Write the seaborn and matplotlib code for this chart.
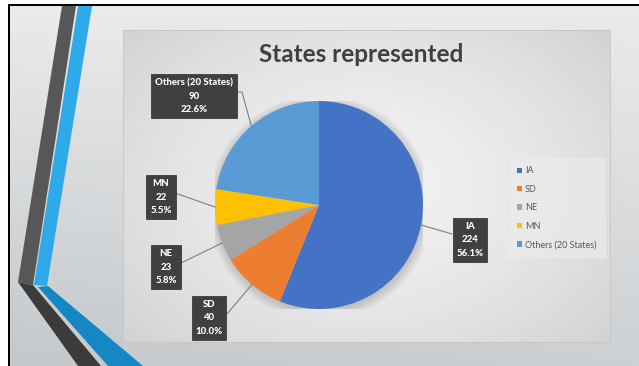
import numpy as np
import matplotlib
matplotlib.use("Agg")
import matplotlib.pyplot as plt
from matplotlib.patches import Polygon, Rectangle, Circle
import seaborn as sns

# ---- data ----
states = ["IA", "SD", "NE", "MN", "Others (20 States)"]
counts = [224, 40, 23, 22, 90]
percents = ["56.1%", "10.0%", "5.8%", "5.5%", "22.6%"]
title = "States represented"
colors = sns.color_palette(["#4472C4", "#ED7D31", "#A5A5A5", "#FFC000", "#5B9BD5"])

sns.set_theme(style="white")
plt.rcParams["font.family"] = ["Lato", "DejaVu Sans"]

W, H = 639, 366
fig = plt.figure(figsize=(W / 100, H / 100), dpi=100, facecolor="white")

# overlay axes in pixel coordinates (y down)
bg = fig.add_axes([0, 0, 1, 1])
bg.set_xlim(0, W)
bg.set_ylim(H, 0)
bg.axis("off")

# slide background gradient
yy, xx = np.mgrid[0:1:200j, 0:1:300j]
top = np.array([0.915, 0.92, 0.925])
bot = np.array([0.77, 0.785, 0.795])
t = (0.75 * yy + 0.25 * (1 - xx) * yy)[..., None]
slide = top * (1 - t) + bot * t
bg.imshow(slide, extent=(9, W, H, 6), origin="upper", aspect="auto", zorder=0)

# decorative stripes
bg.add_patch(Polygon([(62, 6), (76, 6), (33, 285), (18, 282)], closed=True, color="#575757", zorder=1, lw=0))
bg.add_patch(Polygon([(18, 282), (33, 285), (101, 366), (78, 366)], closed=True, color="#3b3b3b", zorder=1, lw=0))
bg.add_patch(Polygon([(78, 6), (92, 6), (47, 286), (34, 285)], closed=True, color="#2eaae8", zorder=1, lw=0))
bg.add_patch(Polygon([(38, 287), (48, 286), (143, 366), (108, 366)], closed=True, color="#1587c5", zorder=1, lw=0))

# black frame (top and left)
bg.add_patch(Rectangle((8, 4), W - 8, 2, color="black", zorder=2, lw=0))
bg.add_patch(Rectangle((8, 4), 2, H - 4, color="black", zorder=2, lw=0))

# chart area with radial gradient
cy, cx = np.mgrid[-1:1:200j, -1:1:300j]
r = np.clip(np.sqrt((cx * 0.9) ** 2 + (cy * 0.8) ** 2), 0, 1.3)
inner = np.array([0.95, 0.95, 0.95])
outer = np.array([0.81, 0.81, 0.81])
tt = (r / 1.3)[..., None] ** 1.5
area = inner * (1 - tt) + outer * tt
bg.imshow(area, extent=(123, 610, 342, 30), origin="upper", aspect="auto", zorder=3)
bg.add_patch(Rectangle((123, 30), 487, 312, fill=False, ec="#c4c4c4", lw=0.6, zorder=3))

# title
bg.text(361, 55, title, ha="center", va="center", fontsize=17.5, fontweight="bold",
        color="#404040", zorder=6)

# pie
PCX, PCY, PR = 319, 205, 104
pax = fig.add_axes([(PCX - PR) / W, (H - PCY - PR) / H, 2 * PR / W, 2 * PR / H])
pax.set_zorder(5)
pax.patch.set_alpha(0)
for k in range(8):
    pax.add_patch(Circle((0.01, -0.02), 1.0 + 0.012 * k, color="black", alpha=0.018, lw=0))
wedges, _ = pax.pie(counts, colors=colors, startangle=90, counterclock=False,
                    radius=1.0, wedgeprops=dict(linewidth=0))
pax.set_aspect("equal")
pax.axis("off")
pax.set_xlim(-1, 1)
pax.set_ylim(-1, 1)

# data labels (layout: box centre, line end on box)
label_layout = {
    "IA": ((470, 240), (452, 234)),
    "SD": ((209, 318), (227, 314)),
    "NE": ((166, 267), (181, 263)),
    "MN": ((161, 197), (175, 193)),
    "Others (20 States)": ((194, 96), (238, 92)),
}
total = sum(counts)
ang = 90.0
lay = fig.add_axes([0, 0, 1, 1])
lay.set_xlim(0, W)
lay.set_ylim(H, 0)
lay.axis("off")
lay.set_zorder(7)
lay.patch.set_alpha(0)
for name, val, pct in zip(states, counts, percents):
    span = 360.0 * val / total
    mid = np.deg2rad(ang - span / 2)
    ang -= span
    sx = PCX + PR * np.cos(mid)
    sy = PCY - PR * np.sin(mid)
    (bx, by), (ex, ey) = label_layout[name]
    if name.startswith("Others"):
        lay.plot([sx, ex + 4, ex], [sy, ey, ey], color="#7f7f7f", lw=0.8)
    else:
        lay.plot([sx, ex], [sy, ey], color="#7f7f7f", lw=0.8)
    lay.text(bx, by, f"{name}\n{val}\n{pct}", ha="center", va="center",
             fontsize=6.9, fontweight="black", color="white", linespacing=1.62,
             bbox=dict(boxstyle="square,pad=0.4", fc="#404040", ec="#2a2a2a", lw=0.5))

# legend
leg = lay.legend(wedges, states, loc="upper left",
                 bbox_to_anchor=(512 / W, 1 - 161 / H), bbox_transform=fig.transFigure,
                 fontsize=6.5, frameon=True, handlelength=0.55, handleheight=0.55,
                 handletextpad=0.3, labelspacing=1.05, borderpad=0.6, borderaxespad=0)
leg.get_frame().set_facecolor("#ececec")
leg.get_frame().set_edgecolor("#ececec")
leg.get_frame().set_alpha(0.6)
leg.get_frame().set_boxstyle("square")
for txt in leg.get_texts():
    txt.set_color("#595959")

fig.savefig("out.png", dpi=100, facecolor="white")
